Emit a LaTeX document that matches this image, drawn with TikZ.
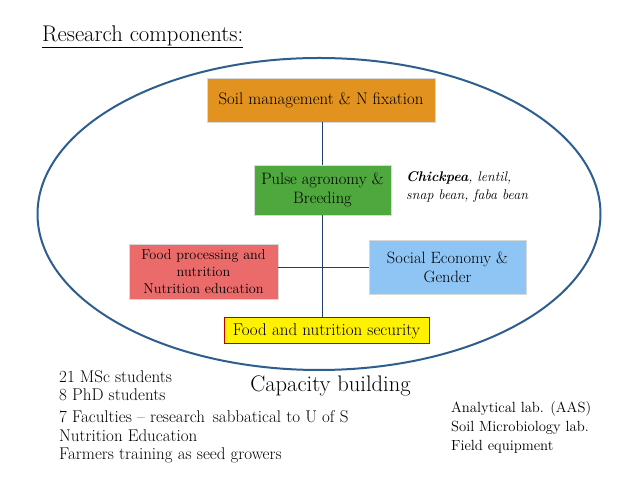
\documentclass[tikz,border=0pt]{standalone}
\usepackage{fontspec}
\usetikzlibrary{shapes.geometric}
\definecolor{soilc}{HTML}{E2921F}
\definecolor{pulsec}{HTML}{4FA83D}
\definecolor{foodc}{HTML}{EB6B6B}
\definecolor{socc}{HTML}{8EC5F5}
\definecolor{ellc}{HTML}{2E5E8E}
\definecolor{linec}{HTML}{1F3F6F}
\definecolor{redb}{HTML}{C00000}
\tikzset{
  boxc/.style={rectangle, inner sep=0pt, align=center, text=black, draw=white!85!black, line width=0.6pt},
  boxtext/.style={font=\fontsize{16.5}{19}\selectfont},
  conn/.style={draw=linec, line width=1pt},
  plain/.style={inner sep=0pt, align=left, anchor=west}
}
\begin{document}
\begin{tikzpicture}[x=1pt,y=1pt]
\useasboundingbox (0,0) rectangle (638,479);
\fill[white] (0,0) rectangle (638,479);

\node[plain, font=\fontsize{22.7}{26}\selectfont] (title) at (42,442) {\underline{Research components:}};

\node[draw=ellc, line width=2pt, ellipse, minimum width=563pt, minimum height=312pt, inner sep=0pt] (ell) at (319,265) {};

\coordinate (vx) at (322.5,0);
\coordinate (hy) at (0,211);

\node[boxc, font=\fontsize{16.8}{19}\selectfont, fill=soilc, minimum width=228pt, minimum height=44pt] (soil) at (321,379) {Soil management \& N fixation};
\node[boxc, boxtext, fill=pulsec, minimum width=137pt, minimum height=50pt] (pulse) at (322.5,289) {Pulse agronomy \&\\Breeding};
\node[boxc, font=\fontsize{14.2}{17}\selectfont, fill=foodc, minimum width=149pt, minimum height=55pt] (food) at (203.5,207.5) {Food processing and\\nutrition\\Nutrition education};
\node[boxc, font=\fontsize{16.4}{19}\selectfont, fill=socc, minimum width=157pt, minimum height=54pt] (soc) at (447.5,212) {Social Economy \&\\Gender};
\node[rectangle, inner sep=0pt, font=\fontsize{17}{19}\selectfont, fill=yellow, draw=redb, line width=1pt, minimum width=205pt, minimum height=26pt] (fns) at (326.5,148) {Food and nutrition security};

\draw[conn] (soil.south -| vx) -- (pulse.north -| vx);
\draw[conn] (pulse.south -| vx) -- (fns.north -| vx);
\draw[conn] (food.east |- hy) -- (soc.west |- hy);

\node[plain, font=\fontsize{14}{18}\selectfont\itshape] (crops) at (406,292) {\textbf{Chickpea}, lentil,\\snap bean, faba bean};

\node[inner sep=0pt, font=\fontsize{22.5}{26}\selectfont, anchor=base] (cap) at (330.5,87) {Capacity building};

\node[plain, font=\fontsize{17}{18}\selectfont, anchor=base west] (students) at (59,78) {21 MSc students\\8 PhD students};
\node[plain, font=\fontsize{17}{18.5}\selectfont, anchor=base west] (others) at (59,19) {7 Faculties -- research\ \,sabbatical to U of S\\Nutrition Education\\Farmers training as seed growers};
\node[plain, font=\fontsize{14.7}{19}\selectfont, anchor=base west] (labs) at (451,28) {Analytical lab. (AAS)\\Soil Microbiology lab.\\Field equipment};
\end{tikzpicture}
\end{document}
